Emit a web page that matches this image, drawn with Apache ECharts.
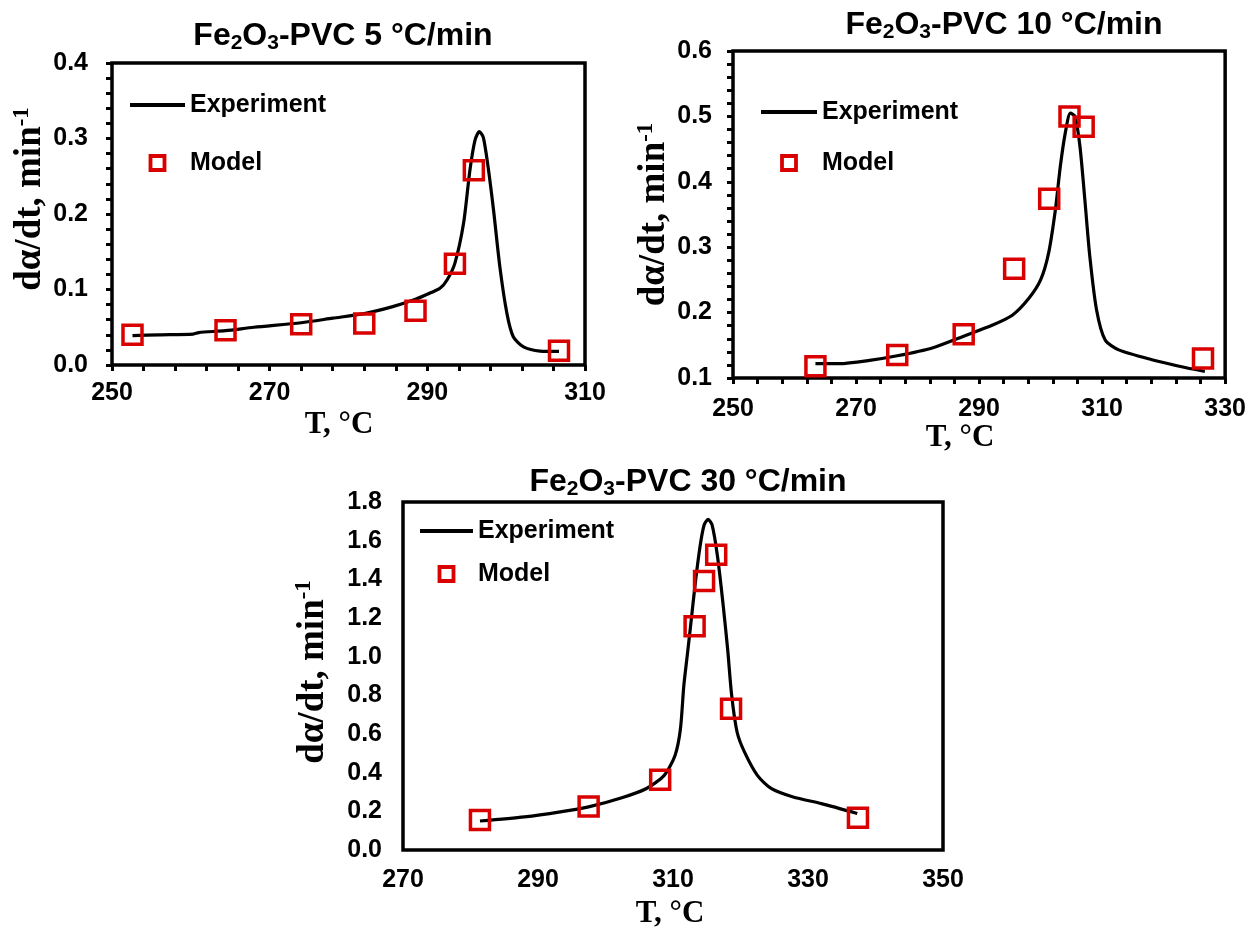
<!DOCTYPE html>
<html>
<head>
<meta charset="utf-8">
<script src="https://cdn.jsdelivr.net/npm/echarts@6/dist/echarts.min.js"></script>
<style>
  html, body { margin: 0; padding: 0; background: #fff; }
  #main { width: 1249px; height: 930px; }
</style>
</head>
<body>
<div id="main"></div>
<script>
// ---------- Data ----------
// 5 °C/min
var exp5T = [252.6, 256, 260.3, 261, 264.4, 268, 274, 278, 282, 285.5, 288.5, 290.5, 291.6, 292.5, 293.5, 294.6, 295.4, 296.05, 296.6, 297.1, 297.7, 298.4, 299.2, 300.1, 300.9, 302.2, 304.3, 306.7];
var exp5V = [0.039, 0.040, 0.041, 0.043, 0.0455, 0.050, 0.056, 0.062, 0.068, 0.077, 0.087, 0.096, 0.1015, 0.1126, 0.135, 0.188, 0.258, 0.298, 0.309, 0.3015, 0.263, 0.205, 0.130, 0.068, 0.0375, 0.024, 0.0185, 0.018];
var mod5T = [252.6, 264.4, 274.0, 282.0, 288.5, 293.5, 295.9, 306.7];
var mod5V = [0.040, 0.046, 0.054, 0.055, 0.072, 0.134, 0.258, 0.019];

// 10 °C/min
var exp10T = [263.4, 267.3, 272.2, 276.7, 282.4, 287.5, 292.2, 295.4, 298.1, 300.0, 301.3, 302.4, 303.2, 304.0, 304.85, 305.6, 306.4, 307.2, 308.0, 309.1, 310.5, 312.7, 318.1, 323.5, 326.7];
var exp10V = [0.122, 0.122, 0.127, 0.134, 0.146, 0.164, 0.181, 0.196, 0.222, 0.250, 0.291, 0.357, 0.423, 0.474, 0.505, 0.500, 0.454, 0.372, 0.286, 0.204, 0.158, 0.143, 0.128, 0.116, 0.110];
var mod10T = [263.4, 276.7, 287.5, 295.7, 301.4, 304.7, 307.0, 326.4];
var mod10V = [0.118, 0.135, 0.167, 0.267, 0.374, 0.500, 0.484, 0.130];

// 30 °C/min
var exp30T = [281.4, 288.0, 293.3, 297.5, 302.3, 306.0, 308.7, 310.3, 311.1, 311.6, 312.1, 312.6, 313.3, 314.0, 314.6, 315.2, 315.8, 316.6, 317.4, 318.1, 318.7, 319.5, 320.6, 322.5, 324.6, 327.8, 332.0, 337.3];
var exp30V = [0.150, 0.171, 0.197, 0.223, 0.269, 0.317, 0.386, 0.489, 0.626, 0.849, 1.003, 1.157, 1.380, 1.569, 1.680, 1.710, 1.680, 1.517, 1.277, 1.037, 0.797, 0.609, 0.506, 0.386, 0.317, 0.274, 0.240, 0.189];
var mod30T = [281.4, 297.5, 308.1, 313.2, 314.6, 316.4, 318.6, 337.4];
var mod30V = [0.155, 0.225, 0.363, 1.157, 1.392, 1.527, 0.730, 0.167];

// Tick labels
var xLabels5 = [250, 270, 290, 310];
var yLabels5 = [0.0, 0.1, 0.2, 0.3, 0.4];
var xLabels10 = [250, 270, 290, 310, 330];
var yLabels10 = [0.1, 0.2, 0.3, 0.4, 0.5, 0.6];
var xLabels30 = [270, 290, 310, 330, 350];
var yLabels30 = [0.0, 0.2, 0.4, 0.6, 0.8, 1.0, 1.2, 1.4, 1.6, 1.8];

var titles = ['5 °C/min', '10 °C/min', '30 °C/min'];
var legendNames = ['Experiment', 'Model'];

// ---------- Helpers ----------
function zip(a, b) { return a.map(function (v, i) { return [v, b[i]]; }); }
function steps(lo, hi, step) {
  var out = [];
  var n = Math.round((hi - lo) / step);
  for (var i = 0; i <= n; i++) out.push(+(lo + i * step).toFixed(4));
  return out;
}
var SANS = '"Liberation Sans", Arial, sans-serif';
var SERIF = '"Liberation Serif", "Times New Roman", serif';
var RED = '#d90000';
var CLEAR = 'rgba(0,0,0,0)';

function xAxisCfg(idx, labels, minorStep, showTicks, nameGap, labelMargin, namePadR) {
  var lo = labels[0], hi = labels[labels.length - 1];
  return {
    type: 'value', gridIndex: idx, min: lo, max: hi,
    name: 'T, °C', nameLocation: 'middle', nameGap: nameGap,
    nameTextStyle: { fontFamily: SERIF, fontWeight: 'bold', fontSize: 31, color: '#000', padding: [0, namePadR, 0, 0] },
    axisLine: { show: false },
    splitLine: { show: false },
    axisTick: { show: showTicks, inside: false, length: 6, lineStyle: { color: '#000', width: 3 },
                customValues: steps(lo, hi, minorStep) },
    axisLabel: { customValues: labels, margin: labelMargin, fontFamily: SANS, fontWeight: 'bold', fontSize: 25, color: '#000',
                 formatter: function (v) { return String(Math.round(v)); } }
  };
}
function yAxisCfg(idx, labels, minorStep, showTicks, gap, labelMargin, shiftUp) {
  var lo = labels[0], hi = labels[labels.length - 1];
  return {
    type: 'value', gridIndex: idx, min: lo, max: hi,
    name: '{m|dα/dt, min}{p|-1}', nameLocation: 'middle', nameGap: gap, nameRotate: 90,
    nameTextStyle: {
      padding: [0, 0, 0, shiftUp * 2],
      rich: {
        m: { fontFamily: SERIF, fontWeight: 'bold', fontSize: 37, color: '#000', lineHeight: 40 },
        p: { fontFamily: SERIF, fontWeight: 'bold', fontSize: 23, color: '#000', lineHeight: 24, verticalAlign: 'top' }
      }
    },
    axisLine: { show: false },
    splitLine: { show: false },
    axisTick: { show: showTicks, inside: false, length: 6, lineStyle: { color: '#000', width: 3 },
                customValues: showTicks ? steps(lo, hi, minorStep) : labels },
    axisLabel: { customValues: labels, margin: labelMargin, fontFamily: SANS, fontWeight: 'bold', fontSize: 25, color: '#000',
                 formatter: function (v) { return v.toFixed(1); } }
  };
}
function titleCfg(text, cx, top) {
  return {
    text: '{m|Fe}{s|2}{m|O}{s|3}{m|-PVC ' + text + '}',
    left: cx, top: top, textAlign: 'center',
    textStyle: {
      rich: {
        m: { fontFamily: SANS, fontWeight: 'bold', fontSize: 32, color: '#000', lineHeight: 36 },
        s: { fontFamily: SANS, fontWeight: 'bold', fontSize: 21, color: '#000', lineHeight: 14, verticalAlign: 'bottom' }
      }
    }
  };
}
function legendCfg(left, top, itemW, gap) {
  return {
    left: left, top: top, orient: 'vertical', selectedMode: false, padding: 0,
    itemWidth: itemW, itemHeight: 14, itemGap: gap,
    data: [
      { name: legendNames[0], lineStyle: { color: '#000', width: 4 },
        itemStyle: { color: CLEAR, borderColor: CLEAR, borderWidth: 0 } },
      { name: legendNames[1], icon: 'path://M0,0h10v10h-10z',
        itemStyle: { color: CLEAR, borderColor: RED, borderWidth: 3.8 } }
    ],
    textStyle: { fontFamily: SANS, fontWeight: 'bold', fontSize: 25, color: '#000', lineHeight: 28 }
  };
}
function lineSeries(idx, T, V) {
  return { name: legendNames[0], type: 'line', xAxisIndex: idx, yAxisIndex: idx, data: zip(T, V),
           showSymbol: false, symbol: 'none', smooth: 0.25, lineStyle: { color: '#000', width: 3.2 },
           itemStyle: { color: '#000' }, z: 2, clip: false };
}
function scatterSeries(idx, T, V) {
  return { name: legendNames[1], type: 'scatter', xAxisIndex: idx, yAxisIndex: idx, data: zip(T, V),
           symbol: 'rect', symbolSize: 19,
           itemStyle: { color: CLEAR, borderColor: RED, borderWidth: 3.5, opacity: 1 }, z: 3, clip: false };
}

var gridStyle = { show: true, borderColor: '#000', borderWidth: 3.5, backgroundColor: 'transparent', containLabel: false };

var option = {
  animation: false,
  backgroundColor: '#fff',
  title: [
    titleCfg(titles[0], 338, 13),
    titleCfg(titles[1], 999, 2),
    titleCfg(titles[2], 683, 459)
  ],
  legend: [
    legendCfg(128, 91, 55, 30),
    legendCfg(759, 98, 56, 23),
    legendCfg(418, 517, 53, 15)
  ],
  grid: [
    Object.assign({ left: 112, top: 63, width: 473, height: 302 }, gridStyle),
    Object.assign({ left: 733, top: 51, width: 494, height: 327 }, gridStyle),
    Object.assign({ left: 403, top: 502, width: 540, height: 351 }, gridStyle)
  ],
  xAxis: [
    xAxisCfg(0, xLabels5, 4, true, 44, 16, 19),
    xAxisCfg(1, xLabels10, 4, true, 41, 19, 38),
    xAxisCfg(2, xLabels30, 4, false, 48, 18, 6)
  ],
  yAxis: [
    yAxisCfg(0, yLabels5, 0.02, true, 61, 24, 15),
    yAxisCfg(1, yLabels10, 0.02, true, 54, 21, 0),
    yAxisCfg(2, yLabels30, 0.2, false, 70, 21, 4)
  ],
  series: [
    lineSeries(0, exp5T, exp5V), scatterSeries(0, mod5T, mod5V),
    lineSeries(1, exp10T, exp10V), scatterSeries(1, mod10T, mod10V),
    lineSeries(2, exp30T, exp30V), scatterSeries(2, mod30T, mod30V)
  ]
};

var chart = echarts.init(document.getElementById('main'), null, { renderer: 'canvas' });
chart.setOption(option);
</script>
</body>
</html>
